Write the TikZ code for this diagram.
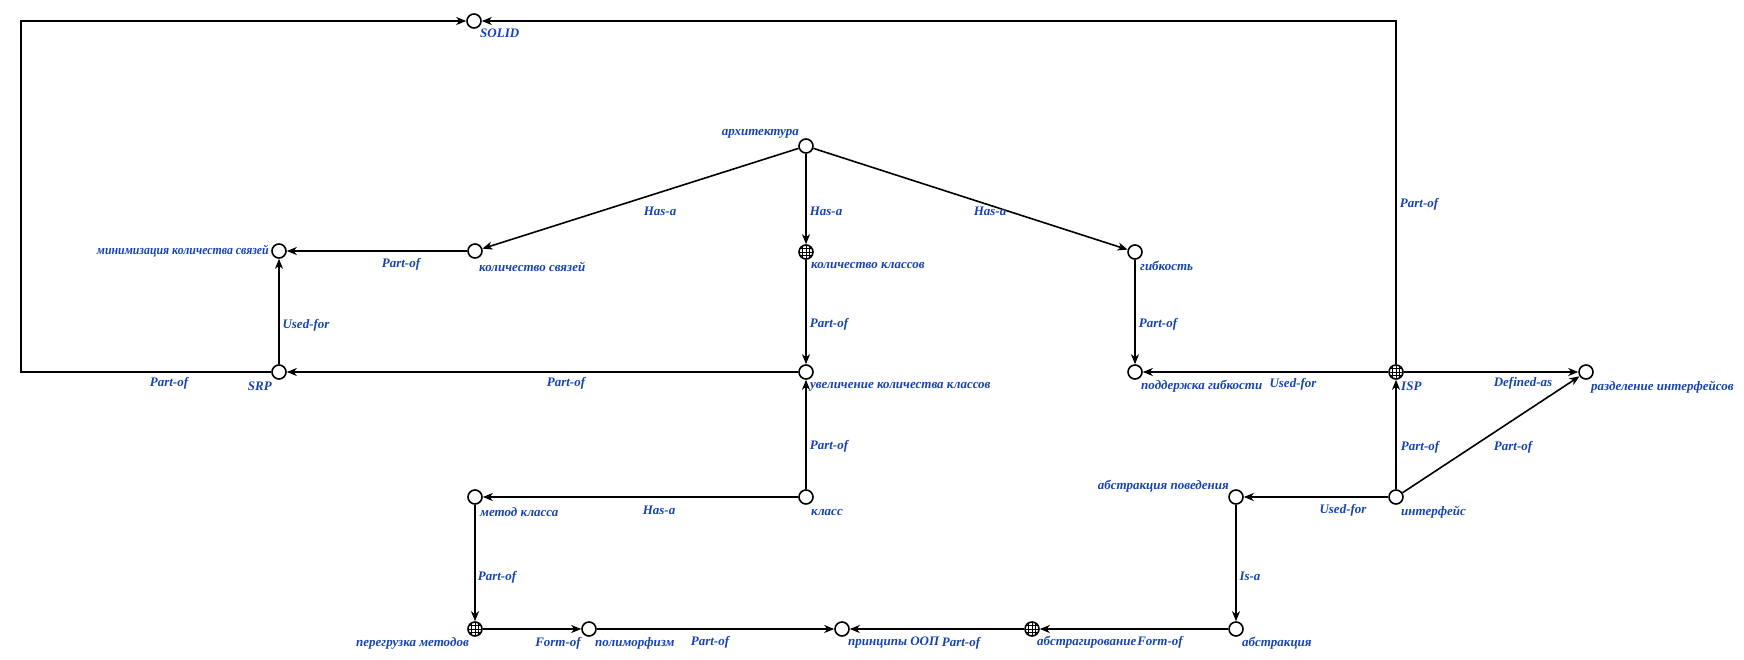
\documentclass[tikz,border=0pt]{standalone}
\usepackage{fontspec}
\setmainfont{Liberation Serif}
\usetikzlibrary{arrows.meta}
\definecolor{lblue}{RGB}{22,67,178}
\begin{document}
\begin{tikzpicture}[x=1pt,y=-1pt,
  cn/.style={circle,draw,line width=1.6pt,minimum size=14pt,inner sep=0pt,fill=white},
  hn/.style={cn,path picture={\foreach \d in {-3.5,0,3.5}{
      \draw[line width=0.7pt] ([xshift=\d pt]path picture bounding box.north) -- ([xshift=\d pt]path picture bounding box.south);
      \draw[line width=0.7pt] ([yshift=\d pt]path picture bounding box.west) -- ([yshift=\d pt]path picture bounding box.east);}}},
  lb/.style={text=lblue,font=\fontsize{13}{15}\selectfont\bfseries\itshape,inner sep=0pt},
  ar/.style={line width=1.6pt,-{Stealth[length=10pt,width=8pt,inset=3pt]}}]
\useasboundingbox (0,0) rectangle (1744,659);
% nodes
\node[cn] (SOLID) at (474,21) {};
\node[cn] (arch) at (806,146) {};
\node[cn] (min) at (279,251) {};
\node[cn] (ks) at (475,251) {};
\node[hn] (kk) at (806,252) {};
\node[cn] (gib) at (1135,252) {};
\node[cn] (srp) at (279,372) {};
\node[cn] (uv) at (806,372) {};
\node[cn] (pod) at (1135,372) {};
\node[hn] (isp) at (1396,372) {};
\node[cn] (raz) at (1586,372) {};
\node[cn] (met) at (475,497) {};
\node[cn] (kl) at (806,497) {};
\node[cn] (abp) at (1236,497) {};
\node[cn] (int) at (1396,497) {};
\node[hn] (per) at (475,629) {};
\node[cn] (pol) at (589,629) {};
\node[cn] (pri) at (842,629) {};
\node[hn] (abg) at (1032,629) {};
\node[cn] (abs) at (1236,629) {};
\coordinate (cl) at (21,372);
% edges
\draw[ar] (ks) -- (min);
\draw[ar] (arch) -- (ks);
\draw[ar] (arch) -- (kk);
\draw[ar] (arch) -- (gib);
\draw[ar] (kk) -- (uv);
\draw[ar] (gib) -- (pod);
\draw[ar] (srp) -- (min);
\draw[ar] (uv) -- (srp);
\draw[ar] (srp) -- (cl) |- (SOLID);
\draw[ar] (isp) |- (SOLID);
\draw[ar] (isp) -- (pod);
\draw[ar] (isp) -- (raz);
\draw[ar] (int) -- (isp);
\draw[ar] (int) -- (raz);
\draw[ar] (kl) -- (uv);
\draw[ar] (kl) -- (met);
\draw[ar] (int) -- (abp);
\draw[ar] (abp) -- (abs);
\draw[ar] (met) -- (per);
\draw[ar] (per) -- (pol);
\draw[ar] (pol) -- (pri);
\draw[ar] (abg) -- (pri);
\draw[ar] (abs) -- (abg);
% node labels
\node[lb,anchor=west] (tSOLID) at (480,33) {SOLID};
\node[lb,anchor=east] (tarch) at (799,134) {архитектура};
\node[lb,anchor=east] (tmin) at (269,251) {\scalebox{0.91}[1]{минимизация количества связей}};
\node[lb,anchor=west] (tks) at (479,267) {количество связей};
\node[lb,anchor=west] (tkk) at (811,266) {количество классов};
\node[lb,anchor=west] (tgib) at (1140,266) {гибкость};
\node[lb,anchor=east] (tsrp) at (272,386) {SRP};
\node[lb,anchor=west] (tuv) at (810,387) {увеличение количества классов};
\node[lb,anchor=west] (tpod) at (1141,386) {поддержка гибкости};
\node[lb,anchor=west] (tisp) at (1401,386) {ISP};
\node[lb,anchor=west] (traz) at (1591,387) {разделение интерфейсов};
\node[lb,anchor=west] (tmet) at (480,512) {метод класса};
\node[lb,anchor=west] (tkl) at (811,512) {класс};
\node[lb,anchor=east] (tabp) at (1229,486) {абстракция поведения};
\node[lb,anchor=west] (tint) at (1401,512) {интерфейс};
\node[lb,anchor=east] (tper) at (469,643) {перегрузка методов};
\node[lb,anchor=west] (tpol) at (595,643) {полиморфизм};
\node[lb,anchor=west] (tpri) at (848,643) {принципы ООП};
\node[lb,anchor=west] (tabg) at (1037,642) {абстрагирование};
\node[lb,anchor=west] (tabs) at (1242,643) {абстракция};
% edge labels
\node[lb] (e1) at (401,264) {Part-of};
\node[lb] (e2) at (660,211) {Has-a};
\node[lb] (e3) at (826,211) {Has-a};
\node[lb] (e4) at (990,211) {Has-a};
\node[lb] (e5) at (829,324) {Part-of};
\node[lb] (e6) at (1158,324) {Part-of};
\node[lb] (e7) at (306,325) {Used-for};
\node[lb] (e8) at (566,383) {Part-of};
\node[lb] (e9) at (169,383) {Part-of};
\node[lb] (e10) at (1419,204) {Part-of};
\node[lb] (e11) at (1293,384) {Used-for};
\node[lb] (e12) at (1523,383) {Defined-as};
\node[lb] (e13) at (1420,447) {Part-of};
\node[lb] (e14) at (1513,447) {Part-of};
\node[lb] (e15) at (829,446) {Part-of};
\node[lb] (e16) at (659,510) {Has-a};
\node[lb] (e17) at (1343,510) {Used-for};
\node[lb] (e18) at (1250,576) {Is-a};
\node[lb] (e19) at (497,577) {Part-of};
\node[lb] (e20) at (558,643) {Form-of};
\node[lb] (e21) at (710,642) {Part-of};
\node[lb] (e22) at (961,643) {Part-of};
\node[lb] (e23) at (1160,642) {Form-of};
\end{tikzpicture}
\end{document}
